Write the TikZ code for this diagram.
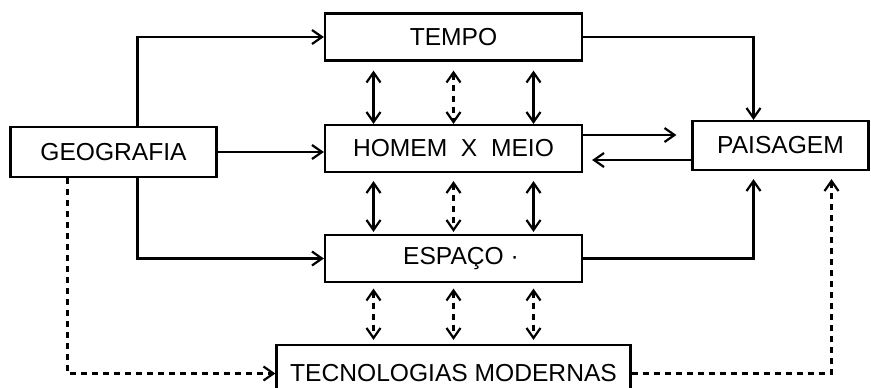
\documentclass[tikz,border=0pt]{standalone}
\usepackage{fontspec}
\setmainfont{Liberation Sans}
\usetikzlibrary{arrows.meta,positioning}

\begin{document}
\begin{tikzpicture}[>={Straight Barb[length=5pt,width=7pt]}, node distance=55pt, on grid, line width=1.1pt, x=0.5pt, y=-0.5pt,
  caixa/.style={draw, rectangle, inner sep=0pt, minimum width=128.5pt, minimum height=23.5pt, font=\fontsize{12.3}{14}\selectfont},
  tracejado/.style={dash pattern=on 3pt off 2.5pt}]
  \useasboundingbox (0,0) rectangle (871,387);
  \clip (0,0) rectangle (871,387);

  \node[caixa] (tempo) at (453.5,37) {TEMPO};
  \node[caixa] (homem) [below=55.75pt of tempo] {HOMEM~~X~~MEIO};
  \node[caixa] (espaco) [below=55pt of homem] {ESPAÇO\rlap{ ·}};
  \node[caixa, minimum width=177pt, minimum height=28.5pt] (tecno) [below=57.5pt of espaco] {TECNOLOGIAS MODERNAS};
  \node[caixa, minimum width=88pt, minimum height=24.5pt] (paisagem) [right=163.5pt of homem, yshift=1.5pt] {PAISAGEM};
  \node[caixa, minimum width=103pt, minimum height=25pt] (geo) [left=170pt of homem, yshift=-1.75pt] {GEOGRAFIA};

  % geografia
  \draw[->] ([xshift=12pt]geo.north) |- (tempo.west);
  \draw[->] (geo.east) -- (geo.east -| homem.west);
  \draw[->] ([xshift=12pt]geo.south) |- (espaco.west);
  \draw[->, tracejado] ([xshift=-23pt]geo.south) |- (tecno.west);

  % paisagem
  \draw[->] (tempo.east) -| ([xshift=-13.5pt]paisagem.north);
  \coordinate (hp) at ([yshift=6.75pt]homem.east);
  \coordinate (ph) at ([yshift=-7.25pt]paisagem.west);
  \draw[->, shorten >=7.5pt] (hp) -- (hp -| paisagem.west);
  \draw[->, shorten >=4.5pt] (ph) -- (ph -| homem.east);
  \draw[->, shorten >=4pt] (espaco.east) -| ([xshift=-13.5pt]paisagem.south);
  \draw[->, tracejado, shorten >=4pt] (tecno.east) -| ([xshift=25.5pt]paisagem.south);

  % setas verticais
  \foreach \dx/\ls in {-40pt/solid, 0pt/tracejado, 40pt/solid} {
    \draw[<->, \ls, shorten <=4.5pt] ([xshift=\dx]tempo.south) -- ([xshift=\dx]homem.north);
    \draw[<->, \ls, shorten <=4pt, shorten >=1pt] ([xshift=\dx]homem.south) -- ([xshift=\dx]espaco.north);
    \draw[<->, tracejado, shorten <=2.75pt, shorten >=2pt] ([xshift=\dx]espaco.south) -- ([xshift=\dx]tecno.north);
  }
\end{tikzpicture}
\end{document}
